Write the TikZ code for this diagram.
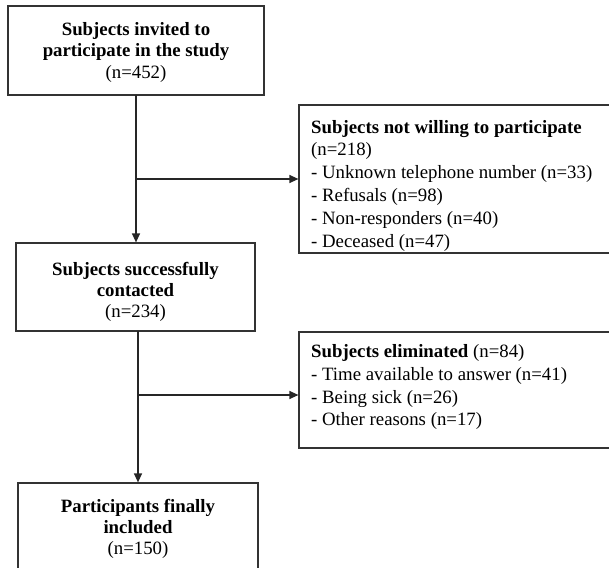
\documentclass[tikz,border=0pt]{standalone}
\usepackage{fontspec}
\setmainfont{Liberation Serif}
\usetikzlibrary{arrows.meta}
\begin{document}
\begin{tikzpicture}[x=1pt,y=-1pt,
  box/.style={draw=black!80, line width=1.2pt, inner sep=0pt, rectangle},
  conn/.style={draw=black!85, line width=1.2pt},
  arr/.style={conn,-{Triangle[length=9pt,width=8pt]}},
  txta/.style={inner sep=0pt, font=\fontsize{18.8}{21.3}\selectfont},
  txtb/.style={inner sep=0pt, font=\fontsize{18.8}{22.8}\selectfont}]
\useasboundingbox (0,0) rectangle (609,567);
\clip (0,0) rectangle (609,567);
% boxes
\node[box, minimum width=256pt, minimum height=89pt] (b1) at (136,50.5) {};
\node[box, minimum width=321pt, minimum height=148pt] (b2) at (459.5,179) {};
\node[box, minimum width=239pt, minimum height=88pt] (b3) at (135.5,287) {};
\node[box, minimum width=321pt, minimum height=116pt] (b4) at (459.5,390) {};
\node[box, minimum width=240pt, minimum height=117pt] (b5) at (138,541.5) {};
% texts
\node[txta, anchor=base] (t1) at (136,35.7) {\begin{tabular}[t]{@{}c@{}}\textbf{Subjects invited to}\\ \textbf{participate in the study}\\ (n=452)\end{tabular}};
\node[txtb, anchor=base west] (t2) at (311,133) {\begin{tabular}[t]{@{}l@{}}\textbf{Subjects not willing to participate}\\ (n=218)\\ - Unknown telephone number (n=33)\\ - Refusals (n=98)\\ - Non-responders (n=40)\\ - Deceased (n=47)\end{tabular}};
\node[txta, anchor=base] (t3) at (135.5,275) {\begin{tabular}[t]{@{}c@{}}\textbf{Subjects successfully}\\ \textbf{contacted}\\ (n=234)\end{tabular}};
\node[txtb, anchor=base west] (t4) at (311,357.5) {\begin{tabular}[t]{@{}l@{}}\textbf{Subjects eliminated} (n=84)\\ - Time available to answer (n=41)\\ - Being sick (n=26)\\ - Other reasons (n=17)\end{tabular}};
\node[txta, anchor=base] (t5) at (138,512) {\begin{tabular}[t]{@{}c@{}}\textbf{Participants finally}\\ \textbf{included}\\ (n=150)\end{tabular}};
% connectors
\coordinate (s1) at (136,95);
\coordinate (j1) at (136,179);
\coordinate (s3) at (138,331);
\coordinate (j2) at (138,395);
\draw[arr] (s1) -- (s1 |- b3.north);
\draw[arr] (j1) -- (j1 -| b2.west);
\draw[arr] (s3) -- (s3 |- b5.north);
\draw[arr] (j2) -- (j2 -| b4.west);
\end{tikzpicture}
\end{document}
